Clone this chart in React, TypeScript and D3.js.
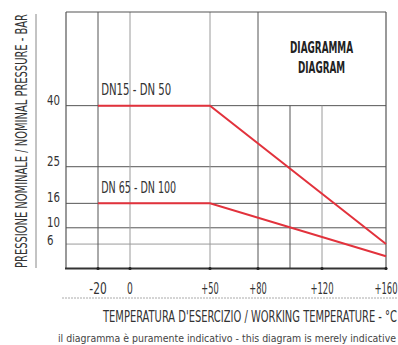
import React from "react";
import * as d3 from "d3";

const temps = [-20, 50, 160];
const dn15to50 = [40, 40, 6];
const dn65to100 = [16, 16, 3];
const xTicks = [-20, 0, 50, 80, 120, 160];
const xTickLabels = ["-20", "0", "+50", "+80", "+120", "+160"];
const yTicks = [40, 25, 16, 10, 6];
const yTickLabels = ["40", "25", "16", "10", "6"];
const fullVLines = [-20, 0, 50, 80];
const partVLines = [100, 120];
const seriesNames = ["DN15 - DN 50", "DN 65 - DN 100"];

const FONT = "'Liberation Sans Narrow', 'DejaVu Sans Condensed', 'Roboto', sans-serif";

export default function App() {
  const x = d3.scaleLinear().domain([-40, 160]).range([66, 386]);
  const y = d3.scaleLinear().domain([0, 63]).range([268.5, 12]);
  const line = d3
    .line<[number, number]>()
    .x((d) => x(d[0]))
    .y((d) => y(d[1]));
  const s1 = temps.map((t, i) => [t, dn15to50[i]] as [number, number]);
  const s2 = temps.map((t, i) => [t, dn65to100[i]] as [number, number]);
  const dark = "#555";
  const light = "#9a9a9a";
  const red = "#e2323c";
  const lightV = new Set([0, 50, 120]);
  const lightH = new Set([6]);

  return (
    <svg
      width={398}
      height={345}
      style={{ position: "absolute", left: 0, top: 0, background: "#fff" }}
      fontFamily={FONT}
    >
      {/* horizontal grid */}
      {yTicks.map((v) => (
        <line
          key={"h" + v}
          x1={x(-40)}
          x2={x(160)}
          y1={y(v)}
          y2={y(v)}
          stroke={lightH.has(v) ? light : dark}
          strokeWidth={1}
        />
      ))}
      {/* vertical grid full */}
      {fullVLines.map((v) => (
        <line
          key={"vf" + v}
          x1={x(v)}
          x2={x(v)}
          y1={y(63)}
          y2={y(0)}
          stroke={lightV.has(v) ? light : dark}
          strokeWidth={1}
        />
      ))}
      {partVLines.map((v) => (
        <line
          key={"vp" + v}
          x1={x(v)}
          x2={x(v)}
          y1={y(40)}
          y2={y(0)}
          stroke={lightV.has(v) ? light : dark}
          strokeWidth={1}
        />
      ))}
      {/* frame */}
      <line x1={x(-40)} x2={x(160)} y1={y(63)} y2={y(63)} stroke={dark} strokeWidth={1.2} />
      <line x1={x(-40)} x2={x(-40)} y1={y(63)} y2={y(0)} stroke={dark} strokeWidth={1.2} />
      <line x1={x(160)} x2={x(160)} y1={y(63)} y2={y(0)} stroke={dark} strokeWidth={1.2} />
      <line x1={x(-40) - 1} x2={x(160) + 1} y1={y(0)} y2={y(0)} stroke="#333" strokeWidth={2} />
      {xTicks.map((v) => (
        <circle key={"d" + v} cx={x(v)} cy={y(0)} r={1.6} fill="#222" />
      ))}

      {/* series */}
      <path d={line(s1) || ""} fill="none" stroke={red} strokeWidth={2} />
      <path d={line(s2) || ""} fill="none" stroke={red} strokeWidth={2} />
      <text x={x(-18)} y={y(40) - 11} fontSize={15} fill="#333" textLength={70} lengthAdjust="spacingAndGlyphs">
        {seriesNames[0]}
      </text>
      <text x={x(-18)} y={y(16) - 10} fontSize={15} fill="#333" textLength={75} lengthAdjust="spacingAndGlyphs">
        {seriesNames[1]}
      </text>

      {/* diagram box label */}
      <text x={321.5} y={53} fontSize={16} fontWeight="bold" fill="#222" textAnchor="middle" textLength={63} lengthAdjust="spacingAndGlyphs">
        DIAGRAMMA
      </text>
      <text x={321.5} y={73} fontSize={16} fontWeight="bold" fill="#222" textAnchor="middle" textLength={47} lengthAdjust="spacingAndGlyphs">
        DIAGRAM
      </text>

      {/* y tick labels */}
      {yTicks.map((v, i) => (
        <text
          key={"yl" + v}
          x={47}
          y={v === 6 ? y(v) + 1 : y(v) - 1}
          fontSize={14}
          fill="#333"
          textLength={yTickLabels[i].length * 6.5}
          lengthAdjust="spacingAndGlyphs"
        >
          {yTickLabels[i]}
        </text>
      ))}

      {/* x tick labels */}
      {xTicks.map((v, i) => (
        <text
          key={"xl" + v}
          x={x(v)}
          y={294}
          fontSize={15}
          fill="#333"
          textAnchor="middle"
          textLength={xTickLabels[i].length * 5.8}
          lengthAdjust="spacingAndGlyphs"
        >
          {xTickLabels[i]}
        </text>
      ))}

      {/* y axis title */}
      <line x1={36} x2={36} y1={14} y2={268} stroke="#888" strokeWidth={1} />
      <text
        transform="translate(27,141) rotate(-90)"
        fontSize={15}
        fill="#333"
        textAnchor="middle"
        textLength={254}
        lengthAdjust="spacingAndGlyphs"
      >
        PRESSIONE NOMINALE / NOMINAL PRESSURE - BAR
      </text>

      {/* x axis title */}
      <line x1={62} x2={398} y1={298} y2={298} stroke="#aaa" strokeWidth={1} strokeDasharray="2,1" />
      <text x={103} y={322} fontSize={15} fill="#333" textLength={294} lengthAdjust="spacingAndGlyphs">
        TEMPERATURA D'ESERCIZIO / WORKING TEMPERATURE - °C
      </text>
      <text x={58} y={342} fontSize={11} fill="#444" textLength={338} lengthAdjust="spacingAndGlyphs">
        il diagramma è puramente indicativo - this diagram is merely indicative
      </text>
    </svg>
  );
}
